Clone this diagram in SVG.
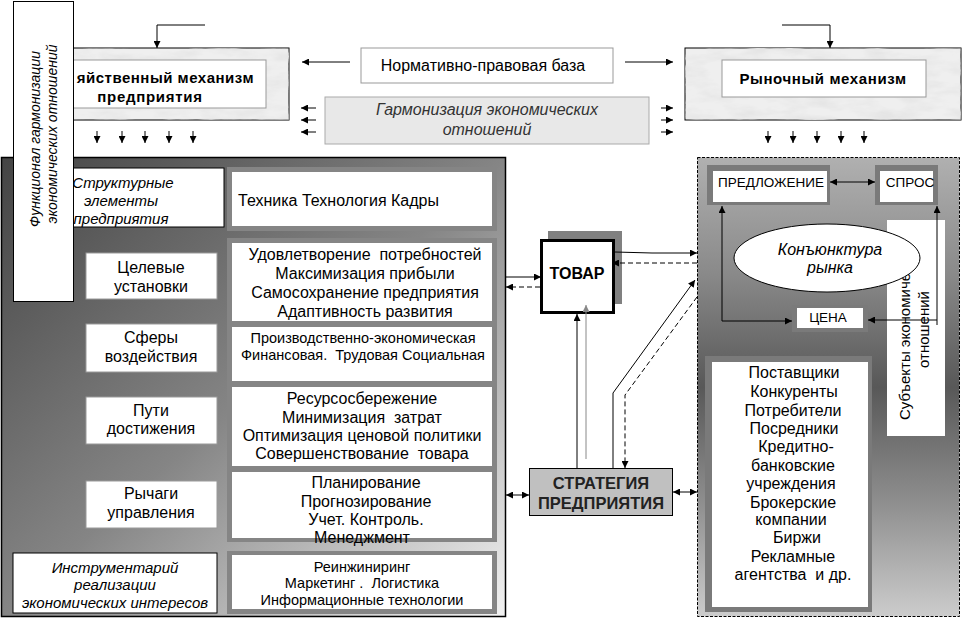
<svg xmlns="http://www.w3.org/2000/svg" width="962" height="626" viewBox="0 0 962 626">
<style>
text{font-family:"Liberation Sans",Arial,sans-serif;fill:#000;white-space:pre}
.t16{font-size:16px}
.t15{font-size:15px}
.t14{font-size:14.5px}
.t13{font-size:13.5px}
.it{font-style:italic}
.b{font-weight:bold}
.c{text-anchor:middle}
.ln{stroke:#000;stroke-width:1;fill:none}
.dsh{stroke:#000;stroke-width:1;fill:none;stroke-dasharray:5 3}
.wb{fill:#fff;stroke:#000;stroke-width:1}
.wg{fill:#fff;stroke:#999;stroke-width:1}
.wn{fill:#fff;stroke:none}
.fr{fill:#858585}
.frr{fill:#7a7a7a}
</style>
<defs>
<marker id="ah" viewBox="0 0 10 10" refX="10" refY="5" markerWidth="8" markerHeight="7" markerUnits="userSpaceOnUse" orient="auto-start-reverse"><path d="M0,0 L10,5 L0,10 z" fill="#000"/></marker>
<marker id="ahg" viewBox="0 0 10 10" refX="10" refY="5" markerWidth="8" markerHeight="7" markerUnits="userSpaceOnUse" orient="auto"><path d="M0,0 L10,5 L0,10 z" fill="#888"/></marker>
<linearGradient id="gl" x1="0" y1="0" x2="1" y2="1">
<stop offset="0" stop-color="#444"/><stop offset="0.5" stop-color="#858585"/><stop offset="1" stop-color="#f2f2f2"/>
</linearGradient>
<linearGradient id="gr" x1="0" y1="0" x2="0" y2="1">
<stop offset="0" stop-color="#b0b0b0"/><stop offset="0.25" stop-color="#8a8a8a"/><stop offset="0.5" stop-color="#585858"/><stop offset="0.75" stop-color="#8e8e8e"/><stop offset="1" stop-color="#cccccc"/>
</linearGradient>
<filter id="marble" x="0" y="0" width="100%" height="100%">
<feTurbulence type="fractalNoise" baseFrequency="0.03 0.09" numOctaves="4" seed="5"/>
<feColorMatrix type="matrix" values="0 0 0 0 0.78  0 0 0 0 0.78  0 0 0 0 0.78  -2.2 0 0 0 1.35"/>
</filter>
</defs>

<g id="hoz-mech">
<rect x="60" y="48" width="229" height="72" fill="#efefef" stroke="#000" stroke-width="1"/>
<rect x="60" y="48" width="229" height="72" filter="url(#marble)"/>
<rect x="60" y="60" width="206" height="48" class="wg"/>
<text class="t15 b" x="254" y="83" text-anchor="end" letter-spacing="0.5">яйственный механизм</text>
<text class="t15 b c" x="150" y="102" letter-spacing="0.7">предприятия</text>
</g>

<g id="market-mech">
<rect x="685" y="48" width="276" height="72" fill="#efefef" stroke="#000" stroke-width="1"/>
<rect x="685" y="48" width="276" height="72" filter="url(#marble)"/>
<rect x="722" y="60" width="204" height="37" class="wg"/>
<text class="t15 b c" x="823" y="84" letter-spacing="0.6">Рыночный механизм</text>
</g>

<g id="norm-base">
<rect x="361" y="48" width="252" height="35" class="wg"/>
<text class="t16 c" x="483" y="71">Нормативно-правовая база</text>
</g>

<g id="harmonization">
<rect x="325" y="97" width="324" height="47" fill="#e8e8e8" stroke="#aaa" stroke-width="1"/>
<text class="t16 it c" x="487" y="115" style="fill:#333">Гармонизация экономических</text>
<text class="t16 it c" x="487" y="135" style="fill:#333">отношений</text>
</g>

<g id="left-panel">
<rect x="1.5" y="157.5" width="504" height="459" fill="url(#gl)" stroke="#000" stroke-width="1.5"/>
</g>

<g id="struct-elements">
<rect x="60" y="168" width="164" height="59" class="wb"/>
<text class="t15 it c" x="123" y="188">Структурные</text>
<text class="t15 it c" x="121" y="206">элементы</text>
<text class="t15 it c" x="121" y="224">предприятия</text>
</g>
<g id="tech">
<rect x="227" y="167" width="270" height="64" class="fr"/>
<rect x="232" y="172" width="260" height="54" class="wn"/>
<text class="t16" x="238" y="206">Техника Технология Кадры</text>
</g>

<rect x="227" y="238" width="270" height="304" class="fr"/>

<g id="target">
<rect x="86" y="253" width="131" height="46" class="wg"/>
<text class="t16 c" x="151" y="273">Целевые</text>
<text class="t16 c" x="151" y="292">установки</text>
</g>
<g id="target-list">
<rect x="232" y="243" width="260" height="78" class="wn"/>
<text class="t16 c" x="365" y="260">Удовлетворение  потребностей</text>
<text class="t16 c" x="365" y="279">Максимизация прибыли</text>
<text class="t16 c" x="365" y="298">Самосохранение предприятия</text>
<text class="t16 c" x="365" y="317">Адаптивность развития</text>
</g>

<g id="spheres">
<rect x="86" y="324" width="131" height="48" class="wg"/>
<text class="t16 c" x="151" y="343">Сферы</text>
<text class="t16 c" x="151" y="362">воздействия</text>
</g>
<g id="spheres-list">
<rect x="232" y="327" width="260" height="54" class="wn"/>
<text class="t14 c" x="363" y="343">Производственно-экономическая</text>
<text class="t14 c" x="363" y="360">Финансовая.  Трудовая Социальная</text>
</g>

<g id="ways">
<rect x="86" y="397" width="131" height="47" class="wg"/>
<text class="t16 c" x="151" y="416">Пути</text>
<text class="t16 c" x="151" y="434">достижения</text>
</g>
<g id="ways-list">
<rect x="232" y="387" width="260" height="79" class="wn"/>
<text class="t16 c" x="362" y="404">Ресурсосбережение</text>
<text class="t16 c" x="362" y="423">Минимизация  затрат</text>
<text class="t16 c" x="362" y="441">Оптимизация ценовой политики</text>
<text class="t16 c" x="362" y="459">Совершенствование  товара</text>
</g>

<g id="levers">
<rect x="86" y="481" width="131" height="47" class="wg"/>
<text class="t16 c" x="151" y="499">Рычаги</text>
<text class="t16 c" x="151" y="518">управления</text>
</g>
<g id="levers-list">
<rect x="232" y="472" width="260" height="66" class="wn"/>
<text class="t16 c" x="366" y="488">Планирование</text>
<text class="t16 c" x="366" y="507">Прогнозирование</text>
<text class="t16 c" x="366" y="525">Учет. Контроль.</text>
<text class="t16 c" x="362" y="543">Менеджмент</text>
</g>

<g id="tools">
<rect x="13" y="553" width="204" height="60" class="wb"/>
<text class="t15 it c" x="115" y="573">Инструментарий</text>
<text class="t15 it c" x="115" y="590">реализации</text>
<text class="t15 it c" x="115" y="608">экономических интересов</text>
</g>
<g id="tools-list">
<rect x="227" y="551" width="270" height="63" class="fr"/>
<rect x="232" y="555" width="260" height="54" class="wn"/>
<text class="t14 c" x="362" y="572">Реинжиниринг</text>
<text class="t14 c" x="362" y="588">Маркетинг .  Логистика</text>
<text class="t14 c" x="362" y="605">Информационные технологии</text>
</g>

<g id="harmonization-func">
<rect x="13.5" y="1.5" width="60" height="300" class="wb"/>
<text class="it c" style="font-size:14px" transform="translate(40,139) rotate(-90)">Функционал гармонизации</text>
<text class="it c" style="font-size:14px" transform="translate(57,134) rotate(-90)">экономических отношений</text>
</g>

<g id="right-panel">
<rect x="697.5" y="157.5" width="262" height="459" fill="url(#gr)" stroke="#000" stroke-width="1" stroke-dasharray="3 1.5"/>
</g>

<g id="subjects">
<rect x="887" y="220" width="58" height="216" class="wn"/>
<text class="t15" transform="translate(910,420) rotate(-90)">Субъекты экономических</text>
<text class="t15" transform="translate(929,368) rotate(-90)">отношений</text>
</g>

<g id="supply">
<rect x="707" y="165" width="123" height="40" class="frr"/>
<rect x="713" y="171" width="114" height="31" class="wn"/>
<text class="t13 c" x="771" y="187">ПРЕДЛОЖЕНИЕ</text>
</g>
<g id="demand">
<rect x="875" y="165" width="63" height="40" class="frr"/>
<rect x="880" y="171" width="53" height="31" class="wn"/>
<text class="t13 c" x="910" y="187">СПРОС</text>
</g>
<g id="conjuncture">
<ellipse cx="827" cy="258" rx="93" ry="34" fill="#fff" stroke="#000" stroke-width="1"/>
<text class="t16 it c" x="830" y="255">Конъюнктура</text>
<text class="t16 it c" x="830" y="273">рынка</text>
</g>
<g id="price">
<rect x="792" y="305" width="76" height="27" class="frr"/>
<rect x="797" y="308" width="66" height="20" class="wn"/>
<text class="t13 c" x="828" y="322">ЦЕНА</text>
</g>
<g id="subjects-list">
<rect x="705" y="356" width="167" height="256" class="frr"/>
<rect x="712" y="362" width="156" height="245" class="wn"/>
<text class="t16 c" x="794" y="378">Поставщики</text>
<text class="t16 c" x="794" y="397">Конкуренты</text>
<text class="t16 c" x="793" y="416">Потребители</text>
<text class="t16 c" x="794" y="434">Посредники</text>
<text class="t16 c" x="796" y="452">Кредитно-</text>
<text class="t16 c" x="793" y="471">банковские</text>
<text class="t16 c" x="791" y="489">учреждения</text>
<text class="t16 c" x="793" y="508">Брокерские</text>
<text class="t16 c" x="791" y="525">компании</text>
<text class="t16 c" x="797" y="543">Биржи</text>
<text class="t16 c" x="793" y="562">Рекламные</text>
<text class="t16 c" x="793" y="580">агентства  и др.</text>
</g>

<g id="tovar">
<rect x="548" y="231" width="74" height="73" fill="#808080"/>
<rect x="541.5" y="240.5" width="72" height="72" fill="#fff" stroke="#000" stroke-width="3"/>
<text class="b c" x="577" y="279" style="font-size:16px">ТОВАР</text>
</g>

<g id="strategy">
<rect x="529.5" y="468.5" width="143" height="47" fill="#c0c0c0" stroke="#000" stroke-width="1"/>
<text class="b c" x="601" y="489" style="font-size:16.5px;fill:#222">СТРАТЕГИЯ</text>
<text class="b c" x="601" y="509" style="font-size:16.5px;fill:#222">ПРЕДПРИЯТИЯ</text>
</g>

<g id="connectors">
<polyline class="ln" points="205,25 157,25 157,48" marker-end="url(#ah)"/>
<polyline class="ln" points="782,25 830,25 830,48" marker-end="url(#ah)"/>
<line class="ln" x1="97" y1="131" x2="97" y2="143" marker-end="url(#ah)"/>
<line class="ln" x1="122" y1="131" x2="122" y2="143" marker-end="url(#ah)"/>
<line class="ln" x1="145" y1="131" x2="145" y2="143" marker-end="url(#ah)"/>
<line class="ln" x1="169" y1="131" x2="169" y2="143" marker-end="url(#ah)"/>
<line class="ln" x1="193" y1="131" x2="193" y2="143" marker-end="url(#ah)"/>
<line class="ln" x1="768" y1="131" x2="768" y2="143" marker-end="url(#ah)"/>
<line class="ln" x1="793" y1="131" x2="793" y2="143" marker-end="url(#ah)"/>
<line class="ln" x1="817" y1="131" x2="817" y2="143" marker-end="url(#ah)"/>
<line class="ln" x1="841" y1="131" x2="841" y2="143" marker-end="url(#ah)"/>
<line class="ln" x1="864" y1="131" x2="864" y2="143" marker-end="url(#ah)"/>
<line class="ln" x1="350" y1="62" x2="302" y2="62" marker-end="url(#ah)"/>
<line class="ln" x1="625" y1="62" x2="673" y2="62" marker-end="url(#ah)"/>
<line class="ln" x1="316" y1="108" x2="301" y2="108" marker-end="url(#ah)"/>
<line class="ln" x1="316" y1="120" x2="301" y2="120" marker-end="url(#ah)"/>
<line class="ln" x1="316" y1="132" x2="301" y2="132" marker-end="url(#ah)"/>
<line class="ln" x1="661" y1="108" x2="673" y2="108" marker-end="url(#ah)"/>
<line class="ln" x1="661" y1="120" x2="673" y2="120" marker-end="url(#ah)"/>
<line class="ln" x1="661" y1="132" x2="673" y2="132" marker-end="url(#ah)"/>
<line class="ln" x1="506" y1="277" x2="541" y2="277" marker-end="url(#ah)"/>
<line class="dsh" x1="540" y1="287" x2="506" y2="287" marker-end="url(#ah)"/>
<polyline class="ln" points="615,252 652,253 697,253" marker-end="url(#ah)"/>
<line class="dsh" x1="697" y1="263" x2="612" y2="263" marker-end="url(#ah)"/>
<line class="ln" x1="577" y1="468" x2="577" y2="314" marker-end="url(#ah)"/>
<line x1="586" y1="459" x2="586" y2="305" stroke="#888" stroke-width="1" marker-end="url(#ahg)"/>
<polyline class="ln" points="613,468 613,393 695,280" marker-end="url(#ah)"/>
<polyline class="dsh" points="697,297 625,395 625,468" marker-end="url(#ah)"/>
<line class="ln" x1="506" y1="495" x2="529" y2="495" marker-start="url(#ah)" marker-end="url(#ah)"/>
<line class="ln" x1="673" y1="492" x2="697" y2="492" marker-start="url(#ah)" marker-end="url(#ah)"/>
<line class="ln" x1="830" y1="182" x2="875" y2="182" marker-start="url(#ah)" marker-end="url(#ah)"/>
<polyline class="ln" points="722,321 722,206" marker-end="url(#ah)"/>
<line class="ln" x1="722" y1="321" x2="792" y2="321" marker-end="url(#ah)"/>
<polyline class="ln" points="937,325 937,206" marker-end="url(#ah)"/>
<line class="ln" x1="937" y1="320" x2="868" y2="320" marker-end="url(#ah)"/>
</g>
</svg>
